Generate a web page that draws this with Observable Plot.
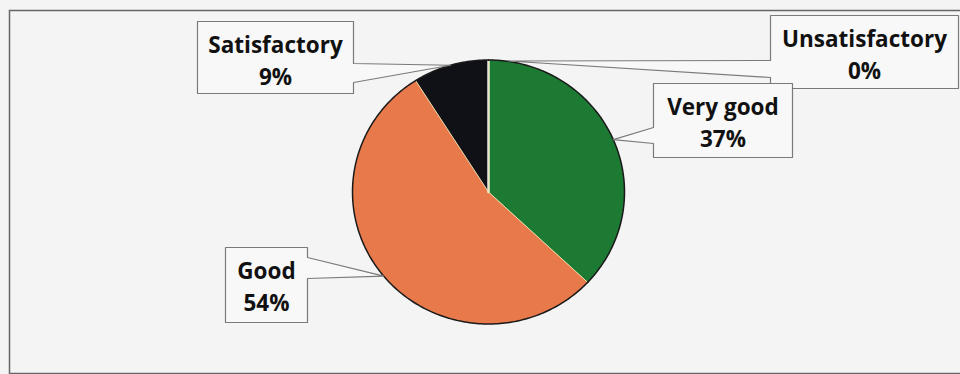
<!DOCTYPE html>
<html>
<head>
<meta charset="utf-8">
<script src="https://cdn.jsdelivr.net/npm/d3@7"></script>
<script src="https://cdn.jsdelivr.net/npm/@observablehq/plot@0.6"></script>
<style>
  html, body { margin: 0; padding: 0; background: #f4f4f4; }
  #chart svg { display: block; }
  #chart text { font-variant-ligatures: none; }
</style>
</head>
<body>
<div id="chart"></div>
<script>
// ---- data ----
const categories = ["Unsatisfactory", "Very good", "Good", "Satisfactory"];
const values = [0, 37, 54, 9];           // percent
const sliceColors = ["#ffffff", "#1c7a32", "#e8794b", "#101117"];

// ---- layout (pixel space) ----
const W = 960, H = 374;
const cx = 488, cy = 191.5, rx = 136, ry = 132;
// callout boxes: [left, top, right, bottom], side of the tail, tail base y range
const boxLeft   = [770, 197, 653, 225];
const boxTop    = [15, 21, 83, 247];
const boxRight  = [958, 353, 792, 307];
const boxBottom = [88, 93, 157, 322];
const tailSide  = ["left", "right", "left", "right"];
const tailA     = [60, 63, 127, 257];
const tailB     = [77, 82, 143, 278];
const boxOrder  = ["Unsatisfactory", "Satisfactory", "Very good", "Good"];

// ---- pie geometry from values ----
const total = d3.sum(values);
let acc = 0;
const slices = categories.map((c, i) => {
  const a0 = acc / total * 2 * Math.PI;
  acc += values[i];
  const a1 = acc / total * 2 * Math.PI;
  return {cat: c, value: values[i], a0, a1, mid: (a0 + a1) / 2, color: sliceColors[i]};
});
const px = a => cx + rx * Math.sin(a);
const py = a => cy - ry * Math.cos(a);

const slicePts = [];
const arcPts = [];
const edgePts = [];
slices.forEach(s => {
  slicePts.push({cat: s.cat, x: cx, y: cy});
  const n = Math.max(1, Math.ceil((s.a1 - s.a0) / (Math.PI / 180)));
  for (let k = 0; k <= n; k++) {
    const a = s.a0 + (s.a1 - s.a0) * k / n;
    slicePts.push({cat: s.cat, x: px(a), y: py(a)});
    arcPts.push({cat: s.cat, x: px(a), y: py(a)});
  }
  edgePts.push({cat: s.cat, x: cx, y: cy}, {cat: s.cat, x: px(s.a0), y: py(s.a0)});
});

// ---- callouts ----
const calloutPts = [];
const textRows = [];
boxOrder.forEach((name, j) => {
  const s = slices.find(d => d.cat === name);
  const tip = {x: px(s.mid), y: py(s.mid)};
  if (name === "Unsatisfactory") { tip.x = cx + 20; tip.y = py(0) + 1; }
  const L = boxLeft[j], T = boxTop[j], R = boxRight[j], B = boxBottom[j];
  let pts;
  if (tailSide[j] === "right") {
    pts = [[L, T], [R, T], [R, tailA[j]], [tip.x, tip.y], [R, tailB[j]], [R, B], [L, B]];
  } else {
    pts = [[L, T], [R, T], [R, B], [L, B], [L, tailB[j]], [tip.x, tip.y], [L, tailA[j]]];
  }
  pts.forEach(p => calloutPts.push({cat: name, x: p[0], y: p[1]}));
  textRows.push({x: (L + R) / 2, y: T + 31, text: name});
  textRows.push({x: (L + R) / 2, y: T + 63, text: `${Math.round(s.value)}%`});
});

const chart = Plot.plot({
  width: W, height: H,
  marginLeft: 0, marginRight: 0, marginTop: 0, marginBottom: 0,
  x: {type: "linear", domain: [0, W], range: [0, W], axis: null},
  y: {type: "linear", domain: [0, H], range: [0, H], axis: null},
  color: {domain: categories, range: sliceColors},
  style: {background: "#f4f4f4", fontFamily: "'Open Sans', Lato, sans-serif", overflow: "visible"},
  marks: [
    Plot.frame({stroke: "#666", strokeWidth: 1.5, insetLeft: 9, insetTop: 10, insetRight: -4, insetBottom: 1}),
    Plot.line(slicePts, {x: "x", y: "y", z: "cat", fill: "cat", stroke: "none", curve: "linear-closed"}),
    Plot.line(edgePts, {x: "x", y: "y", z: "cat", stroke: d => d.cat === "Unsatisfactory" ? "#ffffff" : "#f2e6b0", strokeWidth: d => d.cat === "Unsatisfactory" ? 2.5 : 1, strokeOpacity: 0.9}),
    Plot.line(arcPts, {x: "x", y: "y", z: "cat", stroke: "#1a1a1a", strokeWidth: 1.5}),
    Plot.line(calloutPts, {x: "x", y: "y", z: "cat", fill: "#f8f8f8", stroke: "#7a7a7a", strokeWidth: 1.2, curve: "linear-closed"}),
    Plot.text(textRows, {x: "x", y: "y", text: "text", lineAnchor: "bottom", fontSize: 22.5, fontWeight: "bold", fill: "#111"})
  ]
});
document.getElementById("chart").appendChild(chart);
</script>
</body>
</html>
